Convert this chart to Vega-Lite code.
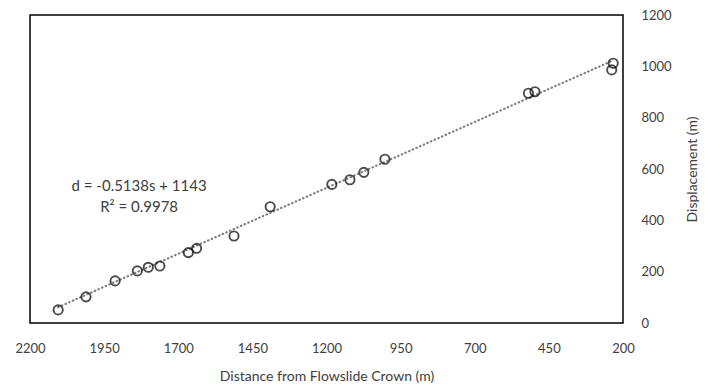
{
  "$schema": "https://vega.github.io/schema/vega-lite/v6.json",
  "width": 593,
  "height": 308,
  "autosize": "none",
  "padding": {"left": 30, "top": 15, "right": 82, "bottom": 64},
  "background": "white",
  "config": {
    "view": {"stroke": "#000000", "strokeWidth": 1.5},
    "font": "Lato"
  },
  "datasets": {
    "obs": [
      {"s": 2105, "d": 51},
      {"s": 2011, "d": 102},
      {"s": 1913, "d": 164},
      {"s": 1838, "d": 203},
      {"s": 1801, "d": 217},
      {"s": 1762, "d": 222},
      {"s": 1666, "d": 274},
      {"s": 1638, "d": 291},
      {"s": 1512, "d": 339},
      {"s": 1390, "d": 453},
      {"s": 1182, "d": 540},
      {"s": 1121, "d": 558},
      {"s": 1074, "d": 587},
      {"s": 1003, "d": 638},
      {"s": 519, "d": 895},
      {"s": 497, "d": 901},
      {"s": 238, "d": 986},
      {"s": 233, "d": 1012}
    ],
    "fit": [
      {"s": 2105, "d": 61.5},
      {"s": 232, "d": 1023.8}
    ],
    "notes": [
      {"s": 1832, "d": 534, "label": "d = -0.5138s + 1143"},
      {"s": 1832, "d": 452, "label": "R² = 0.9978"}
    ]
  },
  "layer": [
    {
      "data": {"name": "fit"},
      "mark": {"type": "line", "color": "#7f7f7f", "strokeWidth": 2.2, "strokeDash": [0.5, 3.5], "strokeCap": "round"},
      "encoding": {
        "x": {"field": "s", "type": "quantitative"},
        "y": {"field": "d", "type": "quantitative"}
      }
    },
    {
      "data": {"name": "obs"},
      "mark": {"type": "point", "shape": "circle", "filled": false, "color": "#000000", "strokeWidth": 1.9, "size": 85},
      "encoding": {
        "x": {
          "field": "s",
          "type": "quantitative",
          "scale": {"domain": [200, 2200], "reverse": true, "nice": false, "zero": false},
          "axis": {
            "title": "Distance from Flowslide Crown (m)",
            "values": [2200, 1950, 1700, 1450, 1200, 950, 700, 450, 200],
            "format": "d",
            "grid": false,
            "ticks": false,
            "tickSize": 0,
            "domain": false,
            "labelPadding": 19,
            "labelFontSize": 13,
            "labelColor": "#404040",
            "labelFont": "Lato",
            "labelFlush": false,
            "titleFontSize": 14,
            "titleFontWeight": "normal",
            "titleColor": "#404040",
            "titleFont": "Lato",
            "titlePadding": 14
          }
        },
        "y": {
          "field": "d",
          "type": "quantitative",
          "scale": {"domain": [0, 1200], "nice": false},
          "axis": {
            "orient": "right",
            "title": "Displacement (m)",
            "values": [0, 200, 400, 600, 800, 1000, 1200],
            "format": "d",
            "grid": false,
            "ticks": false,
            "tickSize": 0,
            "domain": false,
            "labelPadding": 18,
            "labelFontSize": 13,
            "labelColor": "#404040",
            "labelFont": "Lato",
            "titleFontSize": 14,
            "titleFontWeight": "normal",
            "titleColor": "#404040",
            "titleFont": "Lato",
            "titleAngle": 270,
            "titlePadding": 28
          }
        }
      }
    },
    {
      "data": {"name": "notes"},
      "mark": {"type": "text", "fontSize": 15, "color": "#404040", "font": "Lato", "align": "center", "baseline": "middle"},
      "encoding": {
        "x": {"field": "s", "type": "quantitative"},
        "y": {"field": "d", "type": "quantitative"},
        "text": {"field": "label"}
      }
    }
  ]
}
